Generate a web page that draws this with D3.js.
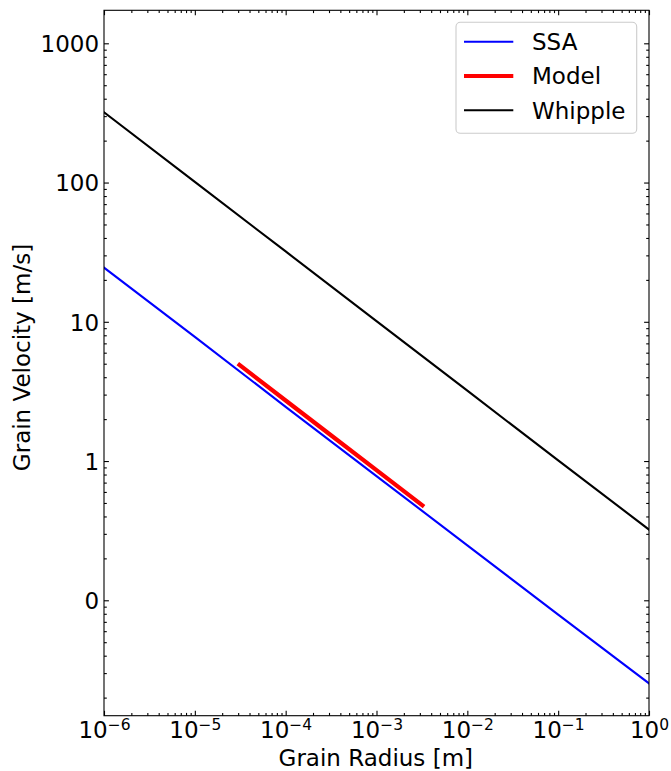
<!DOCTYPE html>
<html>
<head>
    <meta charset="utf-8">
    <title>Grain velocity vs radius</title>
    <script src="https://d3js.org/d3.v7.min.js"></script>
    <style>
        body, html {
            margin: 0;
            padding: 0;
            background: #fff;
        }
        text {
            font-family: "DejaVu Sans", sans-serif;
        }
    </style>
</head>
<body>
    <div id="chart"></div>

    <script>
        // values
        var radius = [1e-6, 1e-5, 1e-4, 1e-3, 1e-2, 1e-1, 1];
        var ssaVelocity = [24.5, 7.8, 2.45, 0.78, 0.248, 0.079, 0.0253];
        var whippleVelocity = [320, 101, 32, 10.1, 3.2, 1.01, 0.322];

        var modelRadius = [3.1e-5, 1e-4, 3e-4, 1e-3, 3.2e-3];
        var modelVelocity = [4.9, 2.72, 1.57, 0.86, 0.48];

        var xTickExponents = [-6, -5, -4, -3, -2, -1, 0];
        var yTickValues = [0.1, 1, 10, 100, 1000];
        var yTickLabels = ["0", "1", "10", "100", "1000"];

        var series = [
            {name: "SSA", x: radius, y: ssaVelocity, color: "#0000ff", width: 2.1},
            {name: "Model", x: modelRadius, y: modelVelocity, color: "#ff0000", width: 4.2},
            {name: "Whipple", x: radius, y: whippleVelocity, color: "#000000", width: 2.1}
        ];

        var W = 671, H = 771;
        var pLeft = 104, pRight = 649, pTop = 10.3, pBottom = 715.7;
        var fontSize = 23;

        var svg = d3.select("#chart").append("svg")
            .attr("width", W)
            .attr("height", H);

        var x = d3.scaleLog().domain([1e-6, 1]).range([pLeft, pRight]);
        var y = d3.scaleLog().domain([0.01483, 1726]).range([pBottom, pTop]);

        svg.append("defs").append("clipPath").attr("id", "clip")
            .append("rect")
            .attr("x", pLeft).attr("y", pTop)
            .attr("width", pRight - pLeft).attr("height", pBottom - pTop);

        // lines
        var line = d3.line()
            .x(function(d) { return x(d[0]); })
            .y(function(d) { return y(d[1]); });

        var plot = svg.append("g").attr("clip-path", "url(#clip)");
        series.forEach(function(s) {
            plot.append("path")
                .datum(d3.zip(s.x, s.y))
                .attr("d", line)
                .attr("fill", "none")
                .attr("stroke", s.color)
                .attr("stroke-width", s.width)
                .attr("stroke-linecap", "square");
        });

        // ticks, all pointing inward
        var xMajor = xTickExponents.map(function(e) { return Math.pow(10, e); });
        var xMinor = x.ticks().filter(function(v) {
            return !xMajor.some(function(m) { return Math.abs(m - v) / m < 1e-6; });
        });
        var yMinor = y.ticks().filter(function(v) {
            return !yTickValues.some(function(m) { return Math.abs(m - v) / m < 1e-6; });
        });

        function styleAxis(g) {
            g.select(".domain").remove();
            g.selectAll(".tick line").attr("stroke", "#000").attr("stroke-width", 1.1);
        }

        var majorLen = -4.9, minorLen = -2.8;

        // bottom
        var gx = svg.append("g").attr("transform", "translate(0," + pBottom + ")")
            .call(d3.axisBottom(x).tickValues(xMajor).tickSize(majorLen).tickFormat(""))
            .call(styleAxis);
        gx.selectAll(".tick text").remove();
        gx.selectAll(".tick").append("text")
            .attr("fill", "#000")
            .attr("y", 22.3)
            .attr("text-anchor", "middle")
            .attr("font-size", fontSize)
            .each(function(d, i) {
                var t = d3.select(this);
                t.append("tspan").text("10");
                t.append("tspan")
                    .attr("font-size", 15.5)
                    .attr("dy", -8.5)
                    .text(String(xTickExponents[i]).replace("-", "\u2212"));
            });
        svg.append("g").attr("transform", "translate(0," + pBottom + ")")
            .call(d3.axisBottom(x).tickValues(xMinor).tickSize(minorLen).tickFormat(""))
            .call(styleAxis);

        // top
        svg.append("g").attr("transform", "translate(0," + pTop + ")")
            .call(d3.axisTop(x).tickValues(xMajor).tickSize(majorLen).tickFormat(""))
            .call(styleAxis);
        svg.append("g").attr("transform", "translate(0," + pTop + ")")
            .call(d3.axisTop(x).tickValues(xMinor).tickSize(minorLen).tickFormat(""))
            .call(styleAxis);

        // left
        var gy = svg.append("g").attr("transform", "translate(" + pLeft + ",0)")
            .call(d3.axisLeft(y).tickValues(yTickValues).tickSize(majorLen).tickPadding(4.9)
                .tickFormat(function(d, i) { return yTickLabels[i]; }))
            .call(styleAxis);
        gy.selectAll(".tick text")
            .attr("fill", "#000")
            .attr("font-size", fontSize)
            .attr("dy", "0.36em");
        svg.append("g").attr("transform", "translate(" + pLeft + ",0)")
            .call(d3.axisLeft(y).tickValues(yMinor).tickSize(minorLen).tickFormat(""))
            .call(styleAxis);

        // right
        svg.append("g").attr("transform", "translate(" + pRight + ",0)")
            .call(d3.axisRight(y).tickValues(yTickValues).tickSize(majorLen).tickFormat(""))
            .call(styleAxis);
        svg.append("g").attr("transform", "translate(" + pRight + ",0)")
            .call(d3.axisRight(y).tickValues(yMinor).tickSize(minorLen).tickFormat(""))
            .call(styleAxis);

        // frame
        svg.append("rect")
            .attr("x", pLeft).attr("y", pTop)
            .attr("width", pRight - pLeft).attr("height", pBottom - pTop)
            .attr("fill", "none")
            .attr("stroke", "#000")
            .attr("stroke-width", 1.1);

        // axis labels
        svg.append("text")
            .attr("x", 375.8).attr("y", 766)
            .attr("text-anchor", "middle")
            .attr("font-size", fontSize)
            .text("Grain Radius [m]");

        svg.append("text")
            .attr("transform", "translate(29.5,357.5) rotate(-90)")
            .attr("text-anchor", "middle")
            .attr("font-size", fontSize)
            .text("Grain Velocity [m/s]");

        // legend
        var legend = svg.append("g");
        legend.append("rect")
            .attr("x", 456).attr("y", 22.3)
            .attr("width", 180.7).attr("height", 111)
            .attr("rx", 4.4)
            .attr("fill", "#fff").attr("fill-opacity", 0.8)
            .attr("stroke", "#cccccc").attr("stroke-width", 1.1);

        series.forEach(function(s, i) {
            var ly = 41.7 + i * 34.3;
            legend.append("line")
                .attr("x1", 464).attr("x2", 513.3)
                .attr("y1", ly).attr("y2", ly)
                .attr("stroke", s.color)
                .attr("stroke-width", s.width);
            legend.append("text")
                .attr("x", 532).attr("y", ly)
                .attr("dy", "0.36em")
                .attr("font-size", fontSize)
                .text(s.name);
        });
    </script>
</body>
</html>
